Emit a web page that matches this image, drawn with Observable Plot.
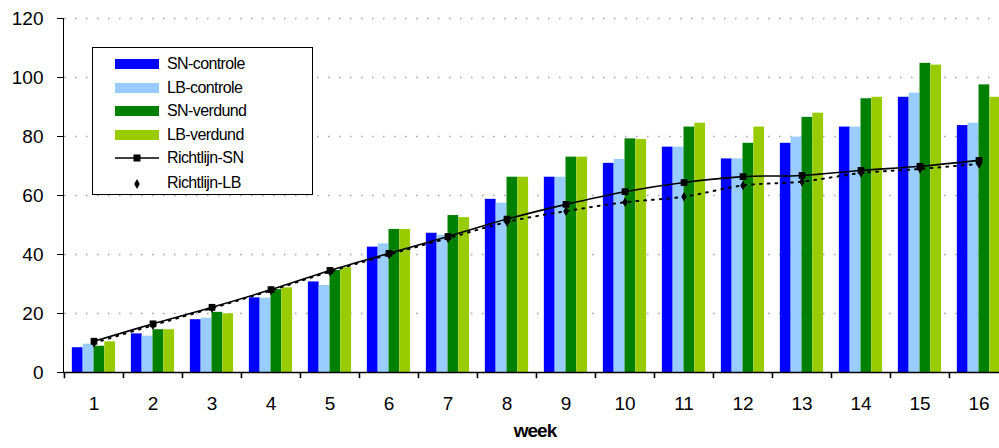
<!DOCTYPE html>
<html><head><meta charset="utf-8">
<script src="https://cdn.jsdelivr.net/npm/d3@7"></script>
<script src="https://cdn.jsdelivr.net/npm/@observablehq/plot@0.6"></script>
<style>
html,body{margin:0;padding:0;background:#fff;overflow:hidden}
#wrap{position:relative;width:999px;height:448px;overflow:hidden}
#wrap svg{position:absolute;left:0;top:0;overflow:hidden;max-width:none}
#legend{position:absolute;left:92px;top:47px;width:219px;height:146px;border:1.5px solid #000;background:#fff;font-family:"Liberation Sans",Arial,sans-serif;font-size:16px;letter-spacing:-0.6px;color:#000}
#legend .row{position:absolute;left:0;height:20px;width:219px}
#legend .sw{position:absolute;left:22px;top:5px;width:44px;height:10px}
#legend .lab{position:absolute;left:74px;top:0;line-height:20px;white-space:nowrap}
</style></head><body><div id="wrap"><div id="legend"></div></div>
<script>
const weeks = [1,2,3,4,5,6,7,8,9,10,11,12,13,14,15,16];
const seriesNames = ["SN-controle","LB-controle","SN-verdund","LB-verdund"];
const seriesColors = ["#0000ff","#99ccff","#008000","#99cc00"];
const snControle = [8.4,13.1,17.9,25.3,30.7,42.5,47.2,58.7,66.2,70.9,76.4,72.4,77.7,83.2,93.3,83.7];
const lbControle = [9.6,12.3,18.4,25.2,29.5,43.6,46.5,57.4,66.2,72.2,76.4,72.4,79.8,83.2,94.7,84.5];
const snVerdund  = [8.9,14.5,20.4,28.1,34.6,48.5,53.2,66.2,73.0,79.2,83.2,77.7,86.5,92.8,104.8,97.5];
const lbVerdund  = [10.4,14.5,19.9,28.7,35.5,48.5,52.5,66.2,73.0,79.0,84.5,83.2,87.9,93.3,104.2,93.3];
const richtlijnSN = [10.6,16.5,22.1,28.1,34.6,40.4,46.1,52.0,57.0,61.3,64.4,66.4,66.8,68.5,69.9,71.9];
const richtlijnLB = [10.0,16.0,21.8,27.8,34.2,40.0,45.5,51.0,54.7,57.7,59.6,63.4,64.7,67.6,69.0,70.7];
const yTicks = [0,20,40,60,80,100,120];
const lineNames = ["Richtlijn-SN","Richtlijn-LB"];

const seriesValues = [snControle, lbControle, snVerdund, lbVerdund];
const W = 999, H = 448, ML = 63, MR = -9, MT = 18, MB = 76;
const bw = (W - ML - MR) / weeks.length;
const groupInset = 7.85, barW = 10.83;

const bars = seriesValues.map((vals, i) =>
  Plot.barY(weeks.map((w, j) => ({week: w, value: vals[j]})), {
    x: "week", y: "value", fill: seriesColors[i],
    insetLeft: groupInset + i * barW,
    insetRight: bw - groupInset - (i + 1) * barW
  }));
const sn = weeks.map((w, j) => ({week: w, v: richtlijnSN[j]}));
const lb = weeks.map((w, j) => ({week: w, v: richtlijnLB[j]}));

const chart = Plot.plot({
  width: W, height: H,
  marginLeft: ML, marginRight: MR, marginTop: MT, marginBottom: MB,
  style: {fontFamily: "'Liberation Sans', Arial, sans-serif", fontSize: "19px", color: "#000", background: "#fff", overflow: "hidden"},
  x: {type: "band", domain: weeks, padding: 0, tickSize: 0, tickPadding: 24, label: null},
  y: {domain: [0, 120], ticks: yTicks, tickSize: 6, tickPadding: 14, line: true, label: null},
  marks: [
    Plot.ruleY(yTicks.filter(t => t > 0), {stroke: "#a8a8a8", strokeWidth: 1.6, strokeDasharray: "1.6,9.4", strokeDashoffset: 10}),
    ...bars,
    Plot.line(lb, {x: "week", y: "v", stroke: "#000", strokeWidth: 2, strokeDasharray: "1.8,6", curve: "catmull-rom"}),
    Plot.line(sn, {x: "week", y: "v", stroke: "#000", strokeWidth: 1.6, curve: "catmull-rom"}),
    Plot.dot(sn, {x: "week", y: "v", symbol: "square", r: 3.8, fill: "#000"}),
    Plot.dot(lb, {x: "week", y: "v", symbol: "diamond", r: 2.9, fill: "#000"}),
    Plot.ruleY([0], {stroke: "#000", strokeWidth: 1.6}),
    Plot.ruleX(weeks, {x: d => d, dx: -bw / 2, y1: 0, y2: -2.1, stroke: "#000", strokeWidth: 1.6}),
    Plot.text(["week"], {frameAnchor: "bottom", dy: 64, dx: -1, text: d => d, fontWeight: "bold", fontSize: 19})
  ]
});
document.getElementById("wrap").insertBefore(chart, document.getElementById("legend"));
d3.select(chart).selectAll("text").filter(function(){return this.textContent === "week";}).style("letter-spacing", "-1px");

// legend
const legend = d3.select("#legend");
const rowTop = [6, 29.5, 53, 76.5, 100, 124.5];
seriesNames.forEach((name, i) => {
  const r = legend.append("div").attr("class", "row").style("top", rowTop[i] + "px");
  r.append("div").attr("class", "sw").style("background", seriesColors[i]);
  r.append("div").attr("class", "lab").text(name);
});
lineNames.forEach((name, k) => {
  const r = legend.append("div").attr("class", "row").style("top", rowTop[4 + k] + "px");
  const s = r.append("svg").attr("width", 50).attr("height", 20).style("position", "absolute").style("left", "20px").style("top", "0px");
  if (k === 0) {
    s.append("line").attr("x1", 2).attr("x2", 46).attr("y1", 10).attr("y2", 10).attr("stroke", "#000").attr("stroke-width", 1.6);
    s.append("rect").attr("x", 20.5).attr("y", 6.5).attr("width", 7).attr("height", 7).attr("fill", "#000");
  } else {
    s.append("path").attr("d", d3.symbol(d3.symbolDiamond, 28)()).attr("transform", "translate(24,11)").attr("fill", "#000");
  }
  r.append("div").attr("class", "lab").text(name);
});
</script></body></html>
